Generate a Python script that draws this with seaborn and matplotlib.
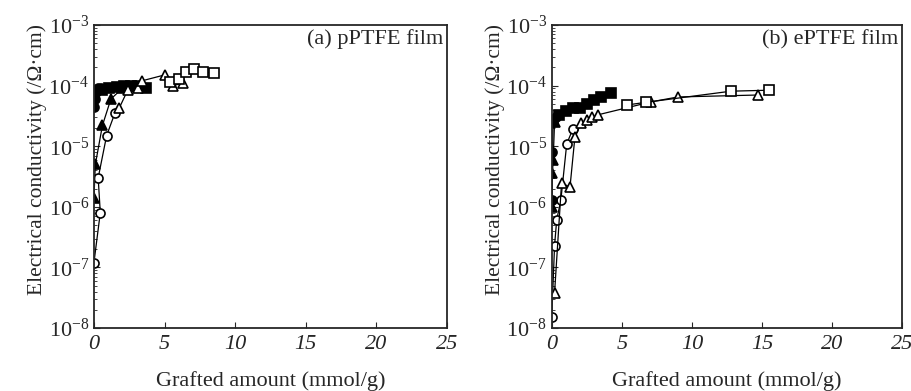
import numpy as np
import pandas as pd
import matplotlib
matplotlib.use("Agg")
import matplotlib.pyplot as plt
import seaborn as sns

# (a) pPTFE film - grafted amount (mmol/g) vs conductivity (S/cm)
a_open_circle_x = [0.0, 0.45, 0.3, 0.9, 1.5]
a_open_circle_y = [1.2e-7, 8e-7, 3e-6, 1.5e-5, 3.6e-5]
a_fill_circle_x = [0.0, 0.05, 0.15, 0.3, 0.5]
a_fill_circle_y = [4.5e-5, 6e-5, 8e-5, 9e-5, 9e-5]
a_fill_tri_x = [0.0, 0.1, 0.6, 1.2, 2.0, 3.0]
a_fill_tri_y = [1.4e-6, 5e-6, 2.2e-5, 6e-5, 9e-5, 1e-4]
a_fill_sq_x = [0.6, 1.1, 1.6, 2.1, 2.6, 3.1, 3.7]
a_fill_sq_y = [8.5e-5, 9e-5, 9.5e-5, 1e-4, 1e-4, 1e-4, 9e-5]
a_open_tri_x = [1.8, 2.4, 3.1, 3.4, 5.0, 5.6, 6.3]
a_open_tri_y = [4.3e-5, 8.5e-5, 9e-5, 1.2e-4, 1.5e-4, 1.0e-4, 1.1e-4]
a_open_sq_x = [5.4, 6.0, 6.5, 7.1, 7.7, 8.5]
a_open_sq_y = [1.15e-4, 1.3e-4, 1.7e-4, 1.9e-4, 1.7e-4, 1.6e-4]

# (b) ePTFE film
b_open_circle_x = [0.0, 0.2, 0.35, 0.65, 1.07, 1.5]
b_open_circle_y = [1.5e-8, 2.3e-7, 6e-7, 1.3e-6, 1.1e-5, 1.9e-5]
b_fill_circle_x = [0.0, 0.05, 0.1, 0.3]
b_fill_circle_y = [1.3e-6, 8e-6, 2.5e-5, 3e-5]
b_fill_tri_x = [0.0, 0.05, 0.1, 0.2]
b_fill_tri_y = [1.0e-6, 3.6e-6, 5.9e-6, 2.5e-5]
b_fill_sq_x = [0.5, 1.0, 1.5, 2.0, 2.5, 3.0, 3.5, 4.2]
b_fill_sq_y = [3.3e-5, 3.8e-5, 4.2e-5, 4.3e-5, 5e-5, 5.8e-5, 6.5e-5, 7.6e-5]
b_open_tri_x = [0.2, 0.7, 1.3, 1.65, 2.1, 2.5, 2.9, 3.3, 7.1, 9.0, 14.7]
b_open_tri_y = [3.8e-8, 2.5e-6, 2.1e-6, 1.4e-5, 2.4e-5, 2.7e-5, 3e-5, 3.3e-5, 5.4e-5, 6.5e-5, 7e-5]
b_open_sq_x = [5.4, 6.7, 12.8, 15.5]
b_open_sq_y = [4.8e-5, 5.3e-5, 8.1e-5, 8.4e-5]

sns.set_style("ticks")
plt.rcParams['font.family'] = ['Liberation Serif', 'DejaVu Serif']
plt.rcParams['mathtext.fontset'] = 'custom'
plt.rcParams['mathtext.rm'] = 'Liberation Serif'
plt.rcParams['mathtext.it'] = 'Liberation Serif:italic'
plt.rcParams['font.size'] = 15

fig = plt.figure(figsize=(9.12, 3.91), dpi=100)
ax1 = fig.add_axes([0.103, 0.161, 0.387, 0.775])
ax2 = fig.add_axes([0.605, 0.161, 0.384, 0.775])

panels = [
    (ax1, "(a) pPTFE film", [
        (a_open_circle_x, a_open_circle_y, 'o', 'white'),
        (a_fill_circle_x, a_fill_circle_y, 'o', 'black'),
        (a_fill_tri_x, a_fill_tri_y, '^', 'black'),
        (a_fill_sq_x, a_fill_sq_y, 's', 'black'),
        (a_open_tri_x, a_open_tri_y, '^', 'white'),
        (a_open_sq_x, a_open_sq_y, 's', 'white'),
    ]),
    (ax2, "(b) ePTFE film", [
        (b_open_circle_x, b_open_circle_y, 'o', 'white'),
        (b_fill_circle_x, b_fill_circle_y, 'o', 'black'),
        (b_fill_tri_x, b_fill_tri_y, '^', 'black'),
        (b_fill_sq_x, b_fill_sq_y, 's', 'black'),
        (b_open_tri_x, b_open_tri_y, '^', 'white'),
        (b_open_sq_x, b_open_sq_y, 's', 'white'),
    ]),
]

for ax, title, series in panels:
    for xs, ys, mk, fc in series:
        df = pd.DataFrame({'x': xs, 'y': ys})
        sns.lineplot(data=df, x='x', y='y', ax=ax, sort=False, color='black',
                     linewidth=0.9, marker=mk, markersize=6.5,
                     markerfacecolor=fc, markeredgecolor='black',
                     markeredgewidth=1.2, estimator=None)
    ax.set_yscale('log')
    ax.set_xlim(0, 25)
    ax.set_ylim(1e-8, 1e-3)
    ax.set_xticks([0, 5, 10, 15, 20, 25])
    ax.set_xticklabels(['0', '5', '10', '15', '20', '25'], fontstyle='italic')
    ax.set_yticks([1e-8, 1e-7, 1e-6, 1e-5, 1e-4, 1e-3])
    ax.set_yticklabels([r'$10^{-8}$', r'$10^{-7}$', r'$10^{-6}$', r'$10^{-5}$', r'$10^{-4}$', r'$10^{-3}$'])
    ax.tick_params(direction='in', which='both', labelsize=16, length=4)
    ax.tick_params(axis='x', pad=5)
    ax.tick_params(which='minor', length=2.5)
    ax.set_xlabel('Grafted amount (mmol/g)', fontsize=16, labelpad=12)
    ax.set_ylabel('Electrical conductivity (/Ω·cm)', fontsize=15.5)
    ax.yaxis.set_label_coords(-0.133, 0.555)
    ax.text(0.99, 0.985, title, transform=ax.transAxes, ha='right', va='top', fontsize=16)
    for s in ax.spines.values():
        s.set_linewidth(1.3)

fig.savefig('out.png', dpi=100)
